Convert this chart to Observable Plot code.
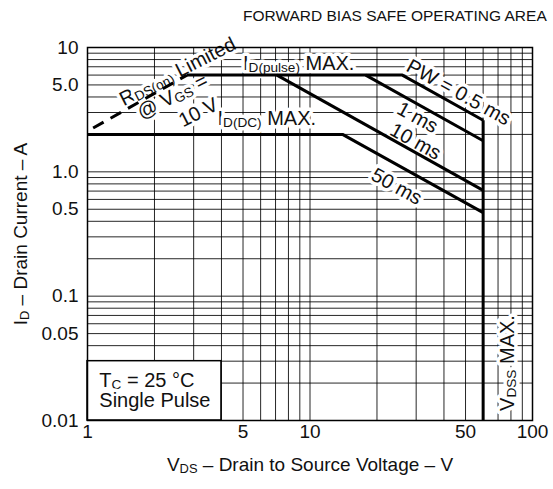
<!DOCTYPE html>
<html><head><meta charset="utf-8">
<script src="https://cdn.jsdelivr.net/npm/d3@7"></script>
<script src="https://cdn.jsdelivr.net/npm/@observablehq/plot@0.6"></script>
<style>
body{margin:0;background:#fff;font-family:"Liberation Sans",Arial,sans-serif;}
#title{height:30px;line-height:32px;font-size:15.5px;padding-left:243px;white-space:nowrap;color:#111;}
</style></head><body>
<div id="title">FORWARD BIAS SAFE OPERATING AREA</div>
<div id="chart"></div>
<script>
const xTicks = [1, 5, 10, 50, 100];
const xTickLabels = ["1", "5", "10", "50", "100"];
const yTicks = [10, 5, 1, 0.5, 0.1, 0.05, 0.01];
const yTickLabels = ["10", "5.0", "1.0", "0.5", "0.1", "0.05", "0.01"];
const gridX = [2, 3, 4, 5, 6, 7, 8, 9, 10, 20, 30, 40, 50, 60, 70, 80, 90];
const gridY = [0.02, 0.03, 0.04, 0.05, 0.06, 0.07, 0.08, 0.09, 0.1,
               0.2, 0.3, 0.4, 0.5, 0.6, 0.7, 0.8, 0.9, 1,
               2, 3, 4, 5, 6, 7, 8, 9];
// curves [VDS (V), ID (A)]
const rdsLimit = [[1.06, 2.25], [2.8, 6]];
const pw05ms = [[2.8, 6], [26, 6], [60, 2.6]];
const pw1ms = [[17.8, 6], [60, 1.78]];
const pw10ms = [[7.1, 6], [60, 0.71]];
const pw50ms = [[1, 2], [14, 2], [60, 0.47]];
const vdssLimit = [[60, 2.6], [60, 0.01]];
const tcBox = [{x1: 1, x2: 4, y1: 0.01, y2: 0.03}];
const annotations = [
  {text: "R_{DS(on)} Limited", x: 2.54, y: 6.4, rotate: -27, anchor: "middle"},
  {text: "@ V_{GS} =", x: 2.41, y: 4.03, rotate: -27, anchor: "middle"},
  {text: "10 V", x: 3.15, y: 3.0, rotate: -27, anchor: "middle"},
  {text: "I_{D(pulse)} MAX.", x: 5.0, y: 7.43, rotate: 0, anchor: "start"},
  {text: "I_{D(DC)} MAX.", x: 3.84, y: 2.68, rotate: 0, anchor: "start"},
  {text: "PW = 0.5 ms", x: 46.5, y: 4.35, rotate: 29, anchor: "middle"},
  {text: "1 ms", x: 30.4, y: 2.73, rotate: 29, anchor: "middle"},
  {text: "10 ms", x: 29.8, y: 1.75, rotate: 29, anchor: "middle"},
  {text: "50 ms", x: 24.5, y: 0.76, rotate: 29, anchor: "middle"},
  {text: "V_{DSS} MAX.", x: 77, y: 0.029, rotate: -90, anchor: "middle"},
  {text: "T_{C} = 25 °C", x: 1.13, y: 0.0209, rotate: 0, anchor: "start"},
  {text: "Single Pulse", x: 1.13, y: 0.01445, rotate: 0, anchor: "start"}
];
const xLabel = "V_{DS} – Drain to Source Voltage – V";
const yLabel = "I_{D} – Drain Current – A";

const X = d => d[0], Y = d => d[1];
const curve = (data, extra = {}) => Plot.line(data, {x: X, y: Y, stroke: "#000", strokeWidth: 3, strokeLinejoin: "miter", strokeLinecap: "butt", ...extra});
const annText = (anchor) => Plot.text(annotations.filter(d => d.anchor === anchor), {
  x: "x", y: "y", text: "text", rotate: "rotate", textAnchor: anchor,
  fontSize: 20, fill: "#111", stroke: "white", strokeWidth: 7
});

const chart = Plot.plot({
  width: 553, height: 459,
  marginLeft: 87, marginRight: 21, marginTop: 17, marginBottom: 69,
  style: {fontFamily: "'Liberation Sans', Arial, sans-serif", fontSize: "19px", background: "white", color: "#111"},
  x: {type: "log", domain: [1, 100], axis: null},
  y: {type: "log", domain: [0.01, 10], axis: null},
  marks: [
    Plot.ruleX(gridX, {stroke: "#000", strokeWidth: 1, strokeOpacity: 0.85}),
    Plot.ruleY(gridY, {stroke: "#000", strokeWidth: 1, strokeOpacity: 0.85}),
    Plot.rect(tcBox, {x1: "x1", x2: "x2", y1: "y1", y2: "y2", fill: "white", stroke: "#000", strokeWidth: 1.5}),
    annText("middle"),
    annText("start"),
    curve(rdsLimit, {strokeDasharray: "12,8"}),
    curve(pw05ms),
    curve(pw1ms),
    curve(pw10ms),
    curve(pw50ms),
    curve(vdssLimit),
    Plot.frame({stroke: "#000", strokeWidth: 1.5}),
    Plot.text(xTicks, {x: d => d, text: (d, i) => xTickLabels[i], frameAnchor: "bottom", dy: 17, fontSize: 19, fill: "#111"}),
    Plot.text(yTicks, {y: d => d, text: (d, i) => yTickLabels[i], frameAnchor: "left", textAnchor: "end", dx: -9, fontSize: 19, fill: "#111"}),
    Plot.text([yLabel], {text: d => d, frameAnchor: "left", textAnchor: "middle", rotate: -90, dx: -67, fontSize: 19, fill: "#111"}),
    Plot.text([xLabel], {text: d => d, frameAnchor: "bottom", textAnchor: "middle", dy: 50, fontSize: 19, fill: "#111"})
  ]
});

// render "_{...}" as smaller subscript text
d3.select(chart).selectAll("text").each(function() {
  const s = this.textContent;
  if (!s.includes("_{")) return;
  const el = d3.select(this);
  el.text("");
  const re = /_\{([^}]*)\}/g;
  let last = 0, m;
  let pending = 0;
  while ((m = re.exec(s))) {
    if (m.index > last) {
      const t = el.append("tspan").text(s.slice(last, m.index));
      if (pending) { t.attr("dy", pending + "px"); pending = 0; }
    }
    el.append("tspan").attr("font-size", "68%").attr("dy", "2px").text(m[1]);
    pending = -2;
    last = m.index + m[0].length;
  }
  if (last < s.length) {
    const t = el.append("tspan").text(s.slice(last));
    if (pending) t.attr("dy", pending + "px");
  }
});
document.getElementById("chart").appendChild(chart);
</script>
</body></html>
